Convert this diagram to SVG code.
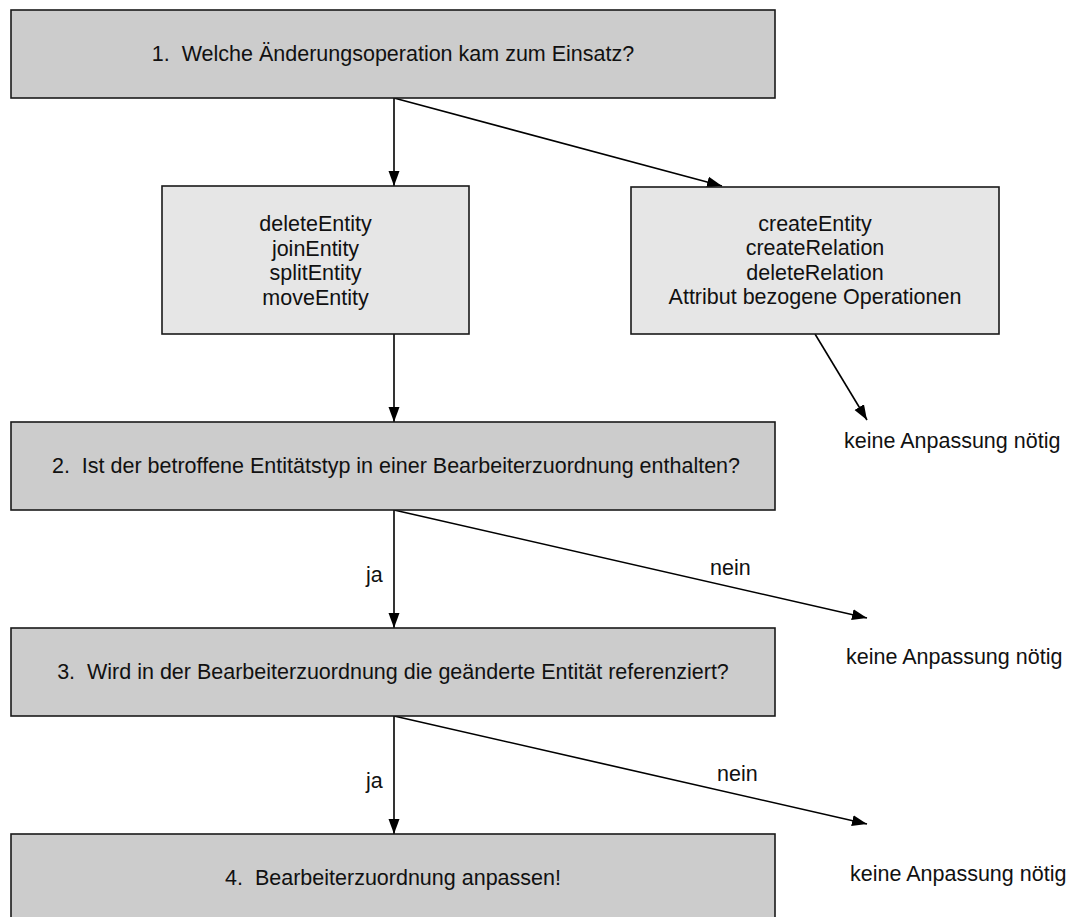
<svg xmlns="http://www.w3.org/2000/svg" width="1069" height="917" viewBox="0 0 1069 917">
  <style>
    .step { fill: #cccccc; stroke: #1a1a1a; stroke-width: 1.6; }
    .ops { fill: #e6e6e6; stroke: #1a1a1a; stroke-width: 1.6; }
    text { font-family: "Liberation Sans", Arial, sans-serif; font-size: 21.5px; fill: #111111; white-space: pre; }
    .c { text-anchor: middle; }
    .edge { stroke: #000000; stroke-width: 1.6; fill: none; marker-end: url(#head); }
  </style>
  <defs>
    <marker id="head" markerUnits="userSpaceOnUse" markerWidth="16" markerHeight="12" refX="15" refY="6" orient="auto">
      <path d="M0,0.5 L15,6 L0,11.5 z" fill="#000000"/>
    </marker>
  </defs>

  <rect width="1069" height="917" fill="#ffffff"/>

  <!-- connectors -->
  <g id="connectors">
    <line class="edge" x1="394" y1="98" x2="394" y2="186"/>
    <line class="edge" x1="394" y1="98" x2="722" y2="186"/>
    <line class="edge" x1="394" y1="334" x2="394" y2="422"/>
    <line class="edge" x1="815" y1="334" x2="867" y2="420"/>
    <line class="edge" x1="394" y1="510" x2="394" y2="628"/>
    <line class="edge" x1="394" y1="510" x2="867" y2="618"/>
    <line class="edge" x1="394" y1="716" x2="394" y2="834"/>
    <line class="edge" x1="394" y1="716" x2="867" y2="824"/>
    <text x="366" y="582">ja</text>
    <text x="710" y="575">nein</text>
    <text x="366" y="788">ja</text>
    <text x="717" y="781">nein</text>
  </g>

  <g id="q1">
    <rect class="step" x="11" y="10" width="764" height="88"/>
    <text class="c" x="393" y="61" xml:space="preserve">1.  Welche Änderungsoperation kam zum Einsatz?</text>
  </g>

  <g id="ops-affecting">
    <rect class="ops" x="162" y="186" width="307" height="148"/>
    <text class="c" x="315.5" y="231">deleteEntity</text>
    <text class="c" x="315.5" y="255.5">joinEntity</text>
    <text class="c" x="315.5" y="280">splitEntity</text>
    <text class="c" x="315.5" y="304.5">moveEntity</text>
  </g>

  <g id="ops-neutral">
    <rect class="ops" x="631" y="187" width="368" height="147"/>
    <text class="c" x="815" y="230.5">createEntity</text>
    <text class="c" x="815" y="255">createRelation</text>
    <text class="c" x="815" y="279.5">deleteRelation</text>
    <text class="c" x="815" y="304">Attribut bezogene Operationen</text>
  </g>

  <g id="none1">
    <text x="844" y="448">keine Anpassung nötig</text>
  </g>

  <g id="q2">
    <rect class="step" x="11" y="422" width="764" height="88"/>
    <text class="c" x="396" y="473" xml:space="preserve">2.  Ist der betroffene Entitätstyp in einer Bearbeiterzuordnung enthalten?</text>
  </g>

  <g id="none2">
    <text x="846" y="664">keine Anpassung nötig</text>
  </g>

  <g id="q3">
    <rect class="step" x="11" y="628" width="764" height="88"/>
    <text class="c" x="393" y="679" xml:space="preserve">3.  Wird in der Bearbeiterzuordnung die geänderte Entität referenziert?</text>
  </g>

  <g id="none3">
    <text x="850" y="881">keine Anpassung nötig</text>
  </g>

  <g id="step4">
    <rect class="step" x="11" y="834" width="764" height="88"/>
    <text class="c" x="393" y="885" xml:space="preserve">4.  Bearbeiterzuordnung anpassen!</text>
  </g>
</svg>
